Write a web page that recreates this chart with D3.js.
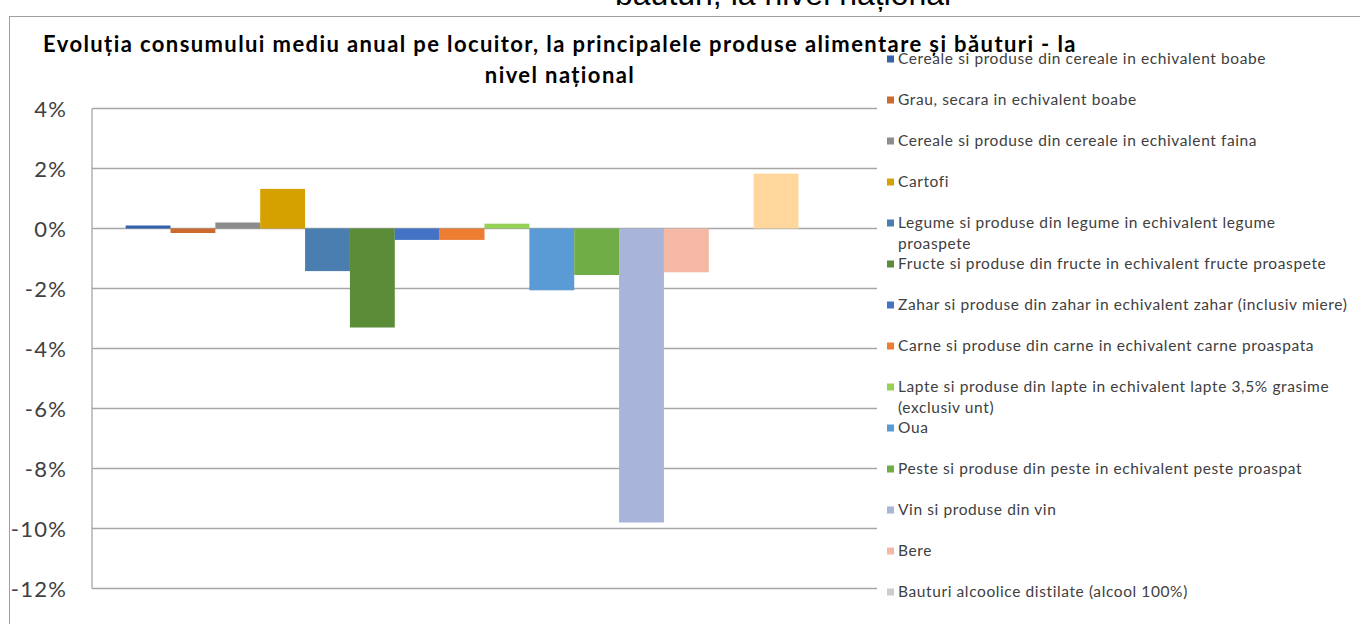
<!DOCTYPE html>
<html>
<head>
<meta charset="utf-8">
<script src="https://cdn.jsdelivr.net/npm/d3@7"></script>
<style>
  body { margin: 0; background: #fff; overflow: hidden; }
  svg { display: block; }
</style>
</head>
<body>
<div id="chart"></div>
<script>
// products, in legend / bar order (last two fall below the visible legend)
var categories = [
  "Cereale si produse din cereale in echivalent boabe",
  "Grau, secara in echivalent boabe",
  "Cereale si produse din cereale in echivalent faina",
  "Cartofi",
  "Legume si produse din legume in echivalent legume\nproaspete",
  "Fructe si produse din fructe in echivalent fructe proaspete",
  "Zahar si produse din zahar in echivalent zahar (inclusiv miere)",
  "Carne si produse din carne in echivalent carne proaspata",
  "Lapte si produse din lapte in echivalent lapte 3,5% grasime\n(exclusiv unt)",
  "Oua",
  "Peste si produse din peste in echivalent peste proaspat",
  "Vin si produse din vin",
  "Bere",
  "Bauturi alcoolice distilate (alcool 100%)",
  "Seria 15",
  "Seria 16"
];

// change in %
var values = [0.1, -0.15, 0.2, 1.32, -1.42, -3.3, -0.38, -0.38, 0.16, -2.06, -1.55, -9.8, -1.46, 0, 1.83, 0];

var colors = ["#3562ad", "#cc6a30", "#8c8c8c", "#d4a100", "#4a7eb0", "#5b8c37", "#4472c4", "#ed7d31",
              "#95d155", "#5b9bd5", "#70ad47", "#a8b4da", "#f4b8a4", "#cccccc", "#ffd79c", "#b4c7e7"];

var yTicks = [4, 2, 0, -2, -4, -6, -8, -10, -12];

var titleLines = ["Evoluția consumului mediu anual pe locuitor, la principalele produse alimentare și băuturi - la", "nivel național"];
var clippedHeading = "băuturi, la nivel național";

var width = 1360, height = 624;
var plot = {left: 92, right: 877, top: 108.5, bottom: 588.5};

var svg = d3.select("#chart").append("svg")
    .attr("width", width)
    .attr("height", height);

// text of the page above, cut off at the top
svg.append("text")
    .attr("x", 615)
    .attr("y", 5)
    .style("font-family", "'Liberation Sans', Arial, sans-serif")
    .style("font-size", "32px")
    .style("fill", "#000")
    .text(clippedHeading);

// chart frame
svg.append("rect")
    .attr("x", 9.5)
    .attr("y", 16.5)
    .attr("width", 1500)
    .attr("height", 800)
    .style("fill", "#fff")
    .style("stroke", "#a0a0a0")
    .style("stroke-width", 1);

// title
svg.selectAll(".title")
    .data(titleLines)
    .enter().append("text")
    .attr("class", "title")
    .attr("x", 560)
    .attr("y", function(d, i) { return 52 + i * 31; })
    .attr("text-anchor", "middle")
    .style("font-family", "Lato, sans-serif")
    .style("font-weight", "bold")
    .style("font-size", "22px")
    .style("letter-spacing", "1.4px")
    .style("fill", "#000")
    .text(function(d) { return d; });

var x = d3.scaleBand()
    .domain(categories)
    .range([plot.left, plot.right])
    .paddingInner(0)
    .paddingOuter(0.75);

var y = d3.scaleLinear()
    .domain([-12, 4])
    .range([plot.bottom, plot.top]);

// gridlines
svg.selectAll(".grid")
    .data(yTicks)
    .enter().append("line")
    .attr("class", "grid")
    .attr("x1", plot.left)
    .attr("x2", plot.right)
    .attr("y1", function(d) { return y(d); })
    .attr("y2", function(d) { return y(d); })
    .style("stroke", "#a6a6a6")
    .style("stroke-width", 1.3);

svg.append("line")
    .attr("x1", plot.left)
    .attr("x2", plot.left)
    .attr("y1", plot.top)
    .attr("y2", plot.bottom)
    .style("stroke", "#a6a6a6")
    .style("stroke-width", 1.3);

// y axis labels
var yAxis = d3.axisLeft(y)
    .tickValues(yTicks)
    .tickSize(0)
    .tickPadding(0)
    .tickFormat(function(d) { return d + "%"; });

var yAxisG = svg.append("g")
    .attr("transform", "translate(67,0)")
    .call(yAxis);
yAxisG.select(".domain").remove();
yAxisG.selectAll("text")
    .attr("dy", "0.35em")
    .style("font-family", "Lato, sans-serif")
    .style("font-size", "22px")
    .style("letter-spacing", "1.2px")
    .style("fill", "#404040");

// bars
svg.selectAll(".bar")
    .data(values)
    .enter().append("rect")
    .attr("class", "bar")
    .attr("x", function(d, i) { return x(categories[i]); })
    .attr("width", x.bandwidth())
    .attr("y", function(d) { return y(Math.max(0, d)); })
    .attr("height", function(d) { return Math.abs(y(d) - y(0)); })
    .style("fill", function(d, i) { return colors[i]; });

// legend
var legend = svg.selectAll(".legend")
    .data(categories)
    .enter().append("g")
    .attr("class", "legend")
    .attr("transform", function(d, i) { return "translate(887," + (59 + i * 41) + ")"; });

legend.append("rect")
    .attr("x", 0)
    .attr("y", -3.5)
    .attr("width", 7)
    .attr("height", 7)
    .style("fill", function(d, i) { return colors[i]; });

legend.append("text")
    .attr("x", 11)
    .style("font-family", "Lato, sans-serif")
    .style("font-size", "15.5px")
    .style("letter-spacing", "0.6px")
    .style("fill", "#404040")
    .selectAll("tspan")
    .data(function(d) { return d.split("\n"); })
    .enter().append("tspan")
    .attr("x", 11)
    .attr("y", function(d, i) { return i * 20.5; })
    .attr("dy", "0.35em")
    .text(function(d) { return d; });
</script>
</body>
</html>
